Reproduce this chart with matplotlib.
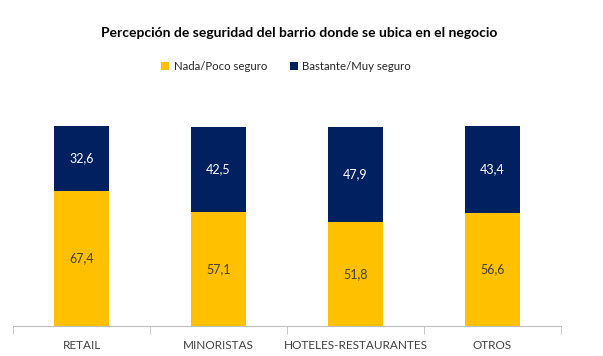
import numpy as np
import matplotlib.pyplot as plt

categories = ['RETAIL', 'MINORISTAS', 'HOTELES-RESTAURANTES', 'OTROS']
nada_poco = [67.4, 57.1, 51.8, 56.6]
bastante_muy = [32.6, 42.5, 47.9, 43.4]

yellow = '#FFC000'
navy = '#002060'

plt.rcParams['font.family'] = ['Lato', 'DejaVu Sans']

fig = plt.figure(figsize=(6.03, 3.56), dpi=100)
W, H = 603, 356
# axes from x=13 to 561, y baseline 326, 100% at 126
ax = fig.add_axes([13 / W, (H - 326) / H, (561 - 13) / W, 220 / H])

x = np.arange(len(categories))
b1 = ax.bar(x, nada_poco, width=0.4, color=yellow)
b2 = ax.bar(x, bastante_muy, width=0.4, bottom=nada_poco, color=navy)

for i in range(len(categories)):
    ax.text(x[i], nada_poco[i] / 2, f'{nada_poco[i]:.1f}'.replace('.', ','),
            ha='center', va='center', fontsize=9, color='#404040')
    ax.text(x[i], nada_poco[i] + bastante_muy[i] / 2,
            f'{bastante_muy[i]:.1f}'.replace('.', ','),
            ha='center', va='center', fontsize=9, color='white')

ax.set_xlim(-0.5, len(categories) - 0.5)
ax.set_ylim(0, 110)
for s in ['top', 'right', 'left']:
    ax.spines[s].set_visible(False)
ax.spines['bottom'].set_color('#BFBFBF')
ax.set_yticks([])
ax.set_xticks(x)
ax.set_xticklabels(categories, fontsize=8.5, color='#404040')
ax.tick_params(axis='x', which='major', length=0, pad=10)
ax.set_xticks(np.arange(-0.5, len(categories)), minor=True)
ax.tick_params(axis='x', which='minor', length=6, color='#BFBFBF')

fig.text(299 / W, 1 - 33 / H, 'Percepción de seguridad del barrio donde se ubica en el negocio',
         ha='center', va='center', fontsize=10, fontweight='bold', color='black')

fig.legend([b1, b2], ['Nada/Poco seguro', 'Bastante/Muy seguro'],
           loc='center', bbox_to_anchor=(286 / W, 1 - 66 / H), ncol=2,
           frameon=False, fontsize=8.2, handlelength=0.7, handleheight=0.7,
           handletextpad=0.4, columnspacing=2.0, labelcolor='#262626')

fig.savefig('out.png', dpi=100)
